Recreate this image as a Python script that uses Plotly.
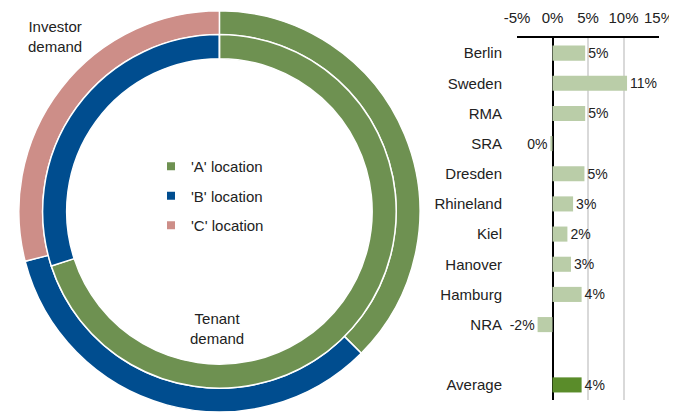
import plotly.graph_objects as go

# ---- Donut data ----
loc_labels = ["'A' location", "'B' location", "'C' location"]
investor_share = [37.5, 33.5, 29.0]
tenant_share = [70.0, 30.0, 0.0]
loc_colors = ["#6E9151", "#004D8F", "#CD8E88"]

# ---- Bar data ----
regions = ["Berlin", "Sweden", "RMA", "SRA", "Dresden", "Rhineland", "Kiel",
           "Hanover", "Hamburg", "NRA", " ", "Average"]
growth = [4.6, 10.5, 4.6, -0.3, 4.5, 2.9, 2.1, 2.6, 4.1, -2.1, None, 4.1]
growth_labels = ["5%", "11%", "5%", "0%", "5%", "3%", "2%", "3%", "4%", "-2%", "", "4%"]
bar_colors = ["#BACDA8"] * 11 + ["#5A8C2A"]

x_ticks = [-5, 0, 5, 10, 15]
x_ticktext = ["-5%", "0%", "5%", "10%", "15%"]

FONT = "Liberation Sans, Arial, sans-serif"
# page body has an 8px default margin, so the figure is 8px smaller each way
W, H = 669, 404
OFF = 8


def px(X):
    return (X - OFF) / W


def py(Y):
    return 1 - (Y - OFF) / H


fig = go.Figure()

# outer ring: investor demand
fig.add_trace(go.Pie(
    labels=loc_labels, values=investor_share, sort=False, direction="clockwise",
    rotation=0, hole=0.881, textinfo="none", hoverinfo="label+value",
    marker=dict(colors=loc_colors, line=dict(color="white", width=1.5)),
    domain=dict(x=[0.0, 0.632], y=[0.0, 0.993]), showlegend=False,
))
# inner ring: tenant demand
fig.add_trace(go.Pie(
    labels=loc_labels, values=tenant_share, sort=False, direction="clockwise",
    rotation=0, hole=0.864, textinfo="none", hoverinfo="label+value",
    marker=dict(colors=loc_colors, line=dict(color="white", width=1.5)),
    domain=dict(x=[0.0, 0.632], y=[0.0589, 0.9341]), showlegend=False,
))

# legend entries
for i, (lab, col) in enumerate(zip(loc_labels, loc_colors)):
    fig.add_trace(go.Scatter(
        x=[None], y=[None], mode="markers", name=lab,
        marker=dict(symbol="square", size=8, color=col),
        legendgroup=f"g{i}", showlegend=True, hoverinfo="skip",
    ))

# bars
fig.add_trace(go.Bar(
    x=growth, y=regions, orientation="h", marker=dict(color=bar_colors, line=dict(width=0)),
    text=growth_labels, textposition="outside", cliponaxis=False, constraintext="none",
    textfont=dict(family=FONT, size=14, color="#222222"), showlegend=False,
    width=0.5,
))

fig.update_layout(
    width=W, height=H, margin=dict(l=0, r=0, t=0, b=0, autoexpand=False),
    paper_bgcolor="white", plot_bgcolor="white",
    font=dict(family=FONT, size=15, color="#222222"),
    xaxis=dict(
        domain=[px(517), px(659)], range=[-5, 15], side="top",
        tickvals=x_ticks, ticktext=x_ticktext, showgrid=True,
        gridcolor="#D9D9D9", gridwidth=1.5, showline=True, linecolor="black",
        linewidth=1.5, zeroline=True, zerolinecolor="black", zerolinewidth=2,
        ticks="", ticklabelstandoff=7, tickfont=dict(size=15), fixedrange=True,
        automargin=False,
    ),
    yaxis=dict(
        domain=[py(400), py(38)], type="category", categoryorder="array",
        categoryarray=regions, autorange="reversed", showgrid=False,
        showline=False, zeroline=False, ticks="", ticklabelstandoff=14,
        tickfont=dict(size=15), fixedrange=True, automargin=False,
    ),
    bargap=0.5,
    legend=dict(
        x=px(151), y=py(150), xanchor="left", yanchor="top",
        traceorder="grouped", tracegroupgap=7, bgcolor="rgba(0,0,0,0)",
        font=dict(family=FONT, size=15, color="#222222"), itemwidth=30,
    ),
    annotations=[
        dict(text="Investor<br>demand", x=px(55), y=py(37), xref="paper", yref="paper",
             showarrow=False, font=dict(size=15, color="#222222"), xanchor="center", yanchor="middle"),
        dict(text="Tenant<br>demand", x=px(217), y=py(328), xref="paper", yref="paper",
             showarrow=False, font=dict(size=15, color="#222222"), xanchor="center", yanchor="middle"),
    ],
)

fig.write_html("out.html")
